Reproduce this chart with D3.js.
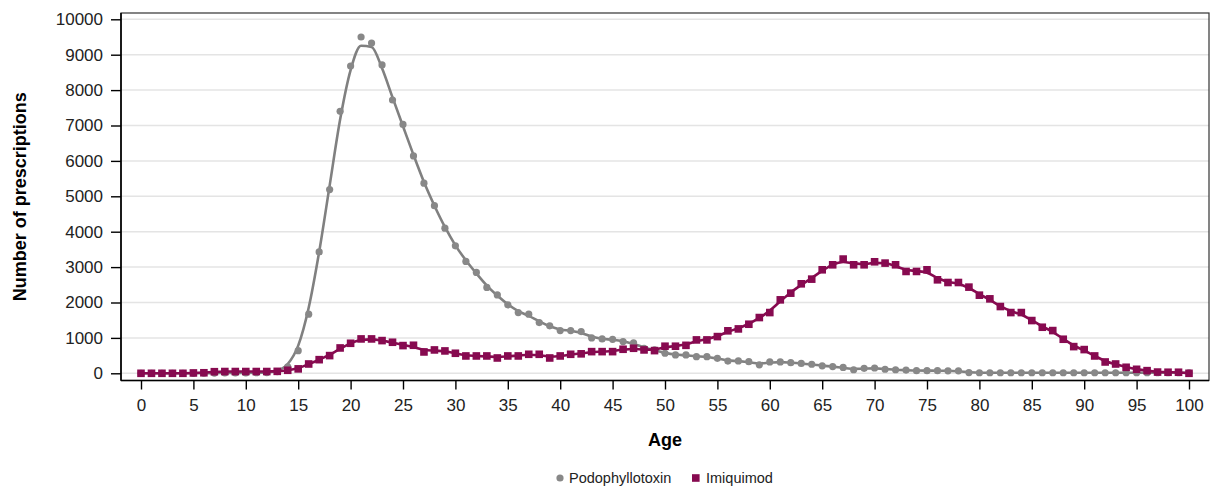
<!DOCTYPE html>
<html>
<head>
<meta charset="utf-8">
<script src="https://cdn.jsdelivr.net/npm/d3@7"></script>
<style>
  html, body { margin: 0; padding: 0; background: #fff; }
  svg { display: block; font-family: "Liberation Sans", Arial, sans-serif; }
</style>
</head>
<body>
<svg id="chart" width="1219" height="486"></svg>
<script>
// ---- data ----
const ages = d3.range(0, 101);
const podophyllotoxin = [
  0, 0, 0, 0, 0, 0, 5, 5, 10, 10,
  10, 15, 20, 50, 180, 640, 1670, 3430, 5190, 7400,
  8680, 9500, 9330, 8710, 7720, 7030, 6140, 5370, 4735, 4100,
  3600, 3160, 2850, 2425, 2215, 1935, 1716, 1670, 1433, 1340,
  1207, 1207, 1180, 1000, 971, 960, 895, 860, 707, 660,
  566, 518, 518, 470, 470, 424, 345, 350, 329, 240,
  320, 320, 300, 280, 255, 210, 190, 165, 100, 140,
  150, 115, 100, 90, 75, 75, 75, 70, 70, 20,
  15, 15, 15, 15, 15, 15, 15, 15, 15, 15,
  15, 15, 15, 15, 15, 15, 15, 15, 15, 15,
  15
];
const imiquimod = [
  0, 0, 0, 0, 0, 10, 15, 45, 50, 50,
  50, 50, 50, 55, 85, 125, 263, 385, 500, 716,
  848, 971, 971, 924, 877, 783, 792, 603, 660, 632,
  566, 490, 490, 490, 433, 490, 490, 537, 537, 433,
  490, 537, 550, 612, 612, 612, 679, 707, 660, 641,
  765, 765, 790, 943, 943, 1037, 1200, 1254, 1386, 1575,
  1716, 2075, 2264, 2528, 2660, 2924, 3065, 3227, 3065, 3065,
  3150, 3113, 3065, 2877, 2877, 2924, 2641, 2565, 2565, 2434,
  2207, 2103, 1886, 1716, 1716, 1490, 1301, 1207, 962, 754,
  670, 490, 320, 263, 170, 113, 75, 35, 30, 30,
  0
];
const xTicks = d3.range(0, 101, 5);
const yTicks = d3.range(0, 10001, 1000);
const seriesNames = ["Podophyllotoxin", "Imiquimod"];
const seriesColors = ["#888888", "#870A50"];
const lineColors = ["#808080", "#870A50"];

// ---- layout ----
const svg = d3.select("#chart");
const frame = { left: 121, right: 1209, top: 13, bottom: 380.5 };
const x = d3.scaleLinear().domain([0, 100]).range([141, 1189]);
const y = d3.scaleLinear().domain([0, 10000]).range([373.3, 19.3]);

// gridlines
svg.append("g").selectAll("line").data(yTicks).join("line")
  .attr("x1", frame.left).attr("x2", frame.right)
  .attr("y1", d => y(d)).attr("y2", d => y(d))
  .attr("stroke", "#e4e4e4").attr("stroke-width", 1.5);

// smoothed fit (1-2-1 weighted running mean of the observed points)
function smooth(vals) {
  return vals.map((v, i) => {
    if (i === 0 || i === vals.length - 1) return v;
    return (vals[i - 1] + 2 * v + vals[i + 1]) / 4;
  });
}

const series = [podophyllotoxin, imiquimod];
const line = d3.line().x((d, i) => x(ages[i])).y(d => y(d)).curve(d3.curveMonotoneX);

series.forEach((vals, s) => {
  const g = svg.append("g");
  g.append("path").datum(smooth(vals))
    .attr("d", line).attr("fill", "none")
    .attr("stroke", lineColors[s]).attr("stroke-width", 2.6)
    .attr("stroke-linejoin", "round");
  if (s === 0) {
    g.selectAll("circle").data(vals).join("circle")
      .attr("cx", (d, i) => x(ages[i])).attr("cy", d => y(d))
      .attr("r", 3.6).attr("fill", seriesColors[s]);
  } else {
    const sz = 7.6;
    g.selectAll("rect").data(vals).join("rect")
      .attr("x", (d, i) => x(ages[i]) - sz / 2).attr("y", d => y(d) - sz / 2)
      .attr("width", sz).attr("height", sz).attr("fill", seriesColors[s]);
  }
});

// frame
svg.append("rect")
  .attr("x", frame.left).attr("y", frame.top)
  .attr("width", frame.right - frame.left).attr("height", frame.bottom - frame.top)
  .attr("fill", "none").attr("stroke", "#333").attr("stroke-width", 1.2);
svg.append("line").attr("x1", frame.left).attr("x2", frame.left)
  .attr("y1", frame.top).attr("y2", frame.bottom).attr("stroke", "#000").attr("stroke-width", 1.6);
svg.append("line").attr("x1", frame.left).attr("x2", frame.right)
  .attr("y1", frame.bottom).attr("y2", frame.bottom).attr("stroke", "#000").attr("stroke-width", 1.6);

// axes
const yAxis = svg.append("g").attr("transform", `translate(${frame.left},0)`)
  .call(d3.axisLeft(y).tickValues(yTicks).tickFormat(d3.format("d")).tickSize(10).tickPadding(8));
const xAxis = svg.append("g").attr("transform", `translate(0,${frame.bottom})`)
  .call(d3.axisBottom(x).tickValues(xTicks).tickFormat(d3.format("d")).tickSize(9).tickPadding(9));
[yAxis, xAxis].forEach(a => {
  a.select(".domain").remove();
  a.selectAll(".tick line").attr("stroke", "#000").attr("stroke-width", 1.4);
  a.selectAll(".tick text").attr("fill", "#222").style("font-size", "17px")
    .style("font-family", '"Liberation Sans", Arial, sans-serif');
});

// axis titles
svg.append("text")
  .attr("transform", `translate(26,${(frame.top + frame.bottom) / 2}) rotate(-90)`)
  .attr("text-anchor", "middle").attr("font-weight", "bold").attr("font-size", 18)
  .attr("fill", "#000").text("Number of prescriptions");
svg.append("text")
  .attr("x", 665).attr("y", 446)
  .attr("text-anchor", "middle").attr("font-weight", "bold").attr("font-size", 18)
  .attr("fill", "#000").text("Age");

// legend
const legend = svg.append("g").attr("transform", "translate(0,478)");
legend.append("circle").attr("cx", 560).attr("cy", 0).attr("r", 3.6).attr("fill", seriesColors[0]);
legend.append("text").attr("x", 569).attr("y", 5).attr("font-size", 14.5).attr("fill", "#222").text(seriesNames[0]);
legend.append("rect").attr("x", 692).attr("y", -3.8).attr("width", 7.6).attr("height", 7.6).attr("fill", seriesColors[1]);
legend.append("text").attr("x", 706).attr("y", 5).attr("font-size", 14.5).attr("fill", "#222").text(seriesNames[1]);
</script>
</body>
</html>
